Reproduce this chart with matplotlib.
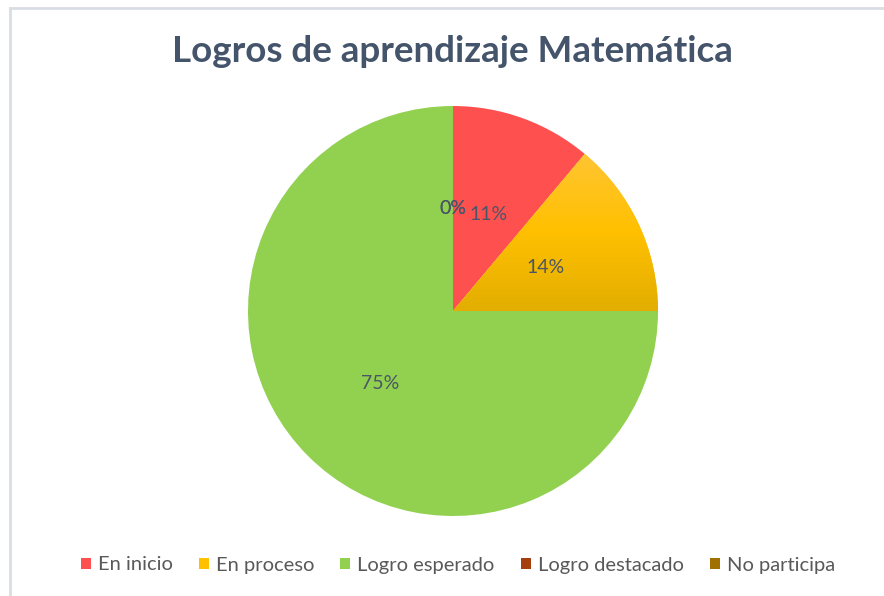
import matplotlib
matplotlib.use("Agg")
import matplotlib.pyplot as plt
import numpy as np
from matplotlib.colors import LinearSegmentedColormap
from matplotlib.patches import Rectangle
from matplotlib.lines import Line2D

categories = ["En inicio", "En proceso", "Logro esperado", "Logro destacado", "No participa"]
counts = [4, 5, 27, 0, 0]
colors = ["#FF5050", "#FFC000", "#92D050", "#A5400E", "#A07000"]
title = "Logros de aprendizaje Matemática"

plt.rcParams['font.family'] = ['Lato', 'DejaVu Sans']

fig = plt.figure(figsize=(8.84, 5.96), dpi=100)
fig.patch.set_facecolor("white")

# light frame (top and left edges visible)
fig.add_artist(Line2D([9.5/884, 9.5/884], [0, 1 - 8/596], transform=fig.transFigure,
                      color="#D9DEE5", lw=2))
fig.add_artist(Line2D([9.5/884, 1], [1 - 8/596, 1 - 8/596], transform=fig.transFigure,
                      color="#D9DEE5", lw=2))

cx, cy, r = 453, 311, 205
ax = fig.add_axes([(cx - r) / 884, (596 - cy - r) / 596, 2 * r / 884, 2 * r / 596])

wedges, texts, autotexts = ax.pie(
    counts, colors=colors, startangle=90, counterclock=False,
    autopct='%1.0f%%', pctdistance=0.5, radius=1,
    wedgeprops=dict(linewidth=0),
    textprops=dict(color="#4A5668", fontsize=14))
ax.set_xlim(-1, 1)
ax.set_ylim(-1, 1)
ax.set_aspect('equal')
ax.axis('off')

# gradient fill for "En proceso"
w = wedges[1]
cmap = LinearSegmentedColormap.from_list("g", ["#E3AE00", "#FFC000", "#FFC534"])
grad = np.linspace(0, 1, 256).reshape(-1, 1)
im = ax.imshow(grad, cmap=cmap, origin='lower', extent=[0, 1.0, 0, 0.78],
               aspect='auto', zorder=w.get_zorder() + 0.1, interpolation='bilinear')
im.set_clip_path(w)
ax.set_xlim(-1, 1)
ax.set_ylim(-1, 1)
for t in autotexts:
    t.set_zorder(5)

fig.text(0.512, 1 - 52 / 596, title, ha='center', va='center',
         fontsize=26.5, fontweight='bold', color="#44546A")

handles = [Rectangle((0, 0), 1, 1, facecolor=c, edgecolor='none') for c in colors]
leg = fig.legend(handles, categories, loc='center', bbox_to_anchor=(0.518, 1 - 565 / 596),
                 ncol=5, frameon=False, fontsize=14.5, handlelength=0.5, handleheight=0.5,
                 handletextpad=0.35, columnspacing=1.3)
for t in leg.get_texts():
    t.set_color("#595959")

fig.savefig("out.png", dpi=100, facecolor="white")
